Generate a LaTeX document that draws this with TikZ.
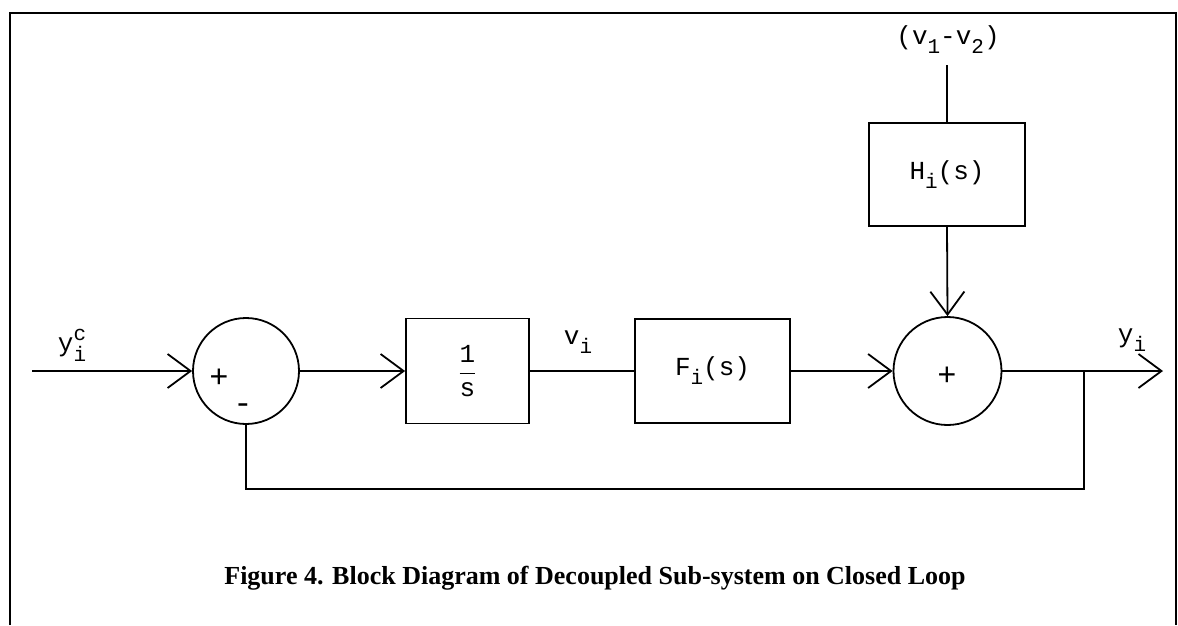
\documentclass[tikz,border=0pt]{standalone}
\usepackage{fontspec}
\setmainfont{Liberation Serif}
\setmonofont{Liberation Mono}
\usetikzlibrary{arrows.meta}
\newcommand\dn[1]{\raisebox{-0.35em}{\fontsize{21}{21}\selectfont#1}}
\newcommand\upp[1]{\raisebox{0.45em}{\fontsize{21}{21}\selectfont#1}}
\begin{document}
\begin{tikzpicture}[x=1pt,y=-1pt,
  line width=1.8pt,
  blk/.style={draw,rectangle,inner sep=0pt},
  sumc/.style={draw,circle,inner sep=0pt,minimum size=106pt},
  lab/.style={inner sep=0pt},
  sgn/.style={inner sep=0pt,font=\ttfamily\fontsize{32}{34}\selectfont},
  sig/.style={-{Straight Barb[length=23pt,width=34pt,line width=1.8pt]}},
  every node/.append style={font=\ttfamily\fontsize{26}{30}\selectfont}]
\useasboundingbox (0,0) rectangle (1178,625);
% frame
\draw[line width=1.4pt] (10,625) -- (10,13) -- (1176,13) -- (1176,625);
% nodes
\node[sumc] (s1) at (246,371) {};
\node[sgn] (p1) at (219,378) {+};
\node[sgn] (m1) at (243,409) {-};
\node[blk,minimum width=123pt,minimum height=105pt] (int) at (467.5,371) {$\displaystyle\frac{\mbox{1}}{\mbox{s}}$};
\node[blk,minimum width=155pt,minimum height=104pt] (F) at (712.5,371) {F\dn{i}(s)};
\node[sumc,minimum size=108pt] (s2) at (947.5,371) {};
\node[sgn] (p2) at (947,376) {+};
\node[blk,minimum width=156pt,minimum height=103pt] (H) at (947,174.5) {H\dn{i}(s)};
% coordinates
\coordinate (in) at (32,371);
\coordinate (out) at (1163,371);
\coordinate (tap) at (1084,371);
\coordinate (fb) at (1084,489);
\coordinate (top) at (947,65);
% labels
\node[lab] (yc) at (72,345) {y\rlap{\dn{i}}\upp{c}};
\node[lab] (vi) at (578,342) {v\dn{i}};
\node[lab] (yi) at (1132,340) {y\dn{i}};
\node[lab] (v12) at (948,40) {(v\dn{1}-v\dn{2})};
% connectors
\draw[sig] (in) -- (s1.west);
\draw[sig] (s1.east) -- (int.west);
\draw (int.east) -- (F.west);
\draw[sig] (F.east) -- (s2.west);
\draw[sig] (s2.east) -- (out);
\draw (tap) -- (fb) -| (s1.south);
\draw (top) -- (H.north);
\draw[sig] (H.south) -- (s2.north);
% caption
\node[font=\rmfamily\bfseries\fontsize{26}{30}\selectfont] (cap) at (595,578) {Figure 4. Block Diagram of Decoupled Sub-system on Closed Loop};
\end{tikzpicture}
\end{document}
